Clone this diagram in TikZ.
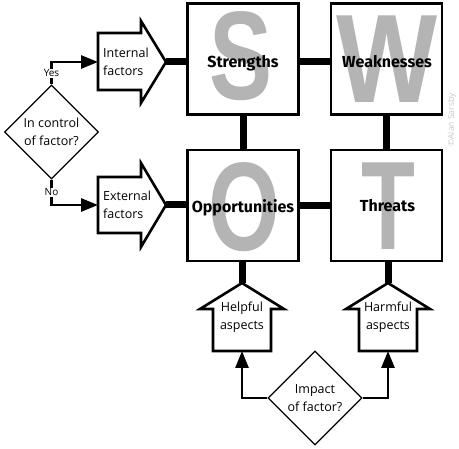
\documentclass[tikz,border=0pt]{standalone}
\usepackage{fontspec}
\setmainfont{Open Sans}
\newfontfamily\labfont{Fira Sans}
\newfontfamily\bigfont{Liberation Sans}
\usetikzlibrary{shapes.geometric,arrows.meta}
\definecolor{lettergray}{HTML}{B4B4B4}
\definecolor{copygray}{HTML}{C8C8C8}
\begin{document}
\begin{tikzpicture}[x=1pt,y=-1pt,
  swotbox/.style={draw,fill=white,line width=2.8pt,minimum width=111pt,minimum height=111pt,inner sep=0pt},
  bigletter/.style={anchor=base,inner sep=0pt,text=lettergray,font=\bigfont\bfseries\fontsize{126}{126}\selectfont},
  swotlabel/.style={anchor=base,inner sep=0pt,font=\labfont\bfseries\fontsize{16}{19}\selectfont},
  blockarrow/.style={draw,fill=white,line width=2.6pt,line join=miter},
  handtext/.style={inner sep=0pt,align=center,font=\fontsize{12.5}{18}\selectfont},
  decision/.style={shape=diamond,draw,fill=white,line width=1.1pt,minimum width=94pt,minimum height=94pt,inner sep=0pt,align=center,font=\fontsize{12.5}{18}\selectfont},
  link/.style={line width=7pt},
  flow/.style={line width=2.8pt,-{Triangle[length=17pt,width=13pt]}},
  yesno/.style={fill=white,inner sep=1pt,font=\fontsize{10}{12}\selectfont}
]
\useasboundingbox (0,0) rectangle (459,449);

% SWOT boxes
\node[swotbox] (bS) at (243,59) {};
\node[swotbox] (bW) at (386.5,59) {};
\node[swotbox] (bO) at (243,205.5) {};
\node[swotbox] (bT) at (386.5,205.5) {};

% big letters
\node[bigletter,xscale=0.75] (lS) at (241.5,99.5) {S};
\node[bigletter,xscale=0.85] (lW) at (387.5,103) {W};
\node[bigletter,xscale=0.73] (lO) at (244,251) {O};
\node[bigletter,xscale=0.70] (lT) at (388,250) {T};

% labels
\node[swotlabel] (tS) at (243,68) {Strengths};
\node[swotlabel] (tW) at (387,68) {Weaknesses};
\node[swotlabel] (tO) at (243,212.5) {Opportunities};
\node[swotlabel] (tT) at (387.5,212) {Threats};

% block arrows (right)
\draw[blockarrow] (98,33) -- (141,33) -- (141,21) -- (166,62) -- (141,103) -- (141,90) -- (98,90) -- cycle;
\coordinate (iTip) at (166,62);
\coordinate (iL) at (98,62);
\node[handtext,align=left,anchor=west] (tI) at (103,62) {Internal\\factors};

\draw[blockarrow] (98,177) -- (141,177) -- (141,163) -- (166,205) -- (141,247) -- (141,233) -- (98,233) -- cycle;
\coordinate (eTip) at (166,205);
\coordinate (eL) at (98,205);
\node[handtext,align=left,anchor=west] (tE) at (103,205) {External\\factors};

% block arrows (up)
\draw[blockarrow] (213,351) -- (213,309) -- (200,309) -- (242,283) -- (284,309) -- (271,309) -- (271,351) -- cycle;
\coordinate (hTip) at (242,283);
\coordinate (hB) at (242,351);
\node[handtext] (tH) at (242,317) {Helpful\\aspects};

\draw[blockarrow] (359,351) -- (359,309) -- (346,309) -- (388,283) -- (430,309) -- (417,309) -- (417,351) -- cycle;
\coordinate (rTip) at (388,283);
\coordinate (rB) at (388,351);
\node[handtext] (tR) at (388,317) {Harmful\\aspects};

% thick links
\draw[link] (iTip) -- (iTip -| bS.west);
\draw[link] (eTip) -- (eTip -| bO.west);
\draw[link] (iTip -| bS.east) -- (iTip -| bW.west);
\draw[link] (bO.east) -- (bT.west);
\draw[link] (bS.south) -- (bO.north);
\draw[link] (bW.south) -- (bT.north);
\draw[link] (hTip) -- (hTip |- bO.south);
\draw[link] (rTip) -- (rTip |- bT.south);

% decisions
\node[decision] (dC) at (51.5,132) {In control\\of factor?};
\node[decision] (dI) at (315,398) {Impact\\of factor?};

\draw[flow] (dC.north) -- node[yesno] {Yes} (dC.north |- iL) -- (iL);
\draw[flow] (dC.south) -- node[yesno] {No} (dC.south |- eL) -- (eL);
\draw[flow] (dI.west) -| (hB);
\draw[flow] (dI.east) -| (rB);

% copyright
\node[rotate=90,text=copygray,inner sep=0pt,font=\fontsize{8.5}{10}\selectfont] (cp) at (452,120) {©Alan Sarsby};
\end{tikzpicture}
\end{document}
